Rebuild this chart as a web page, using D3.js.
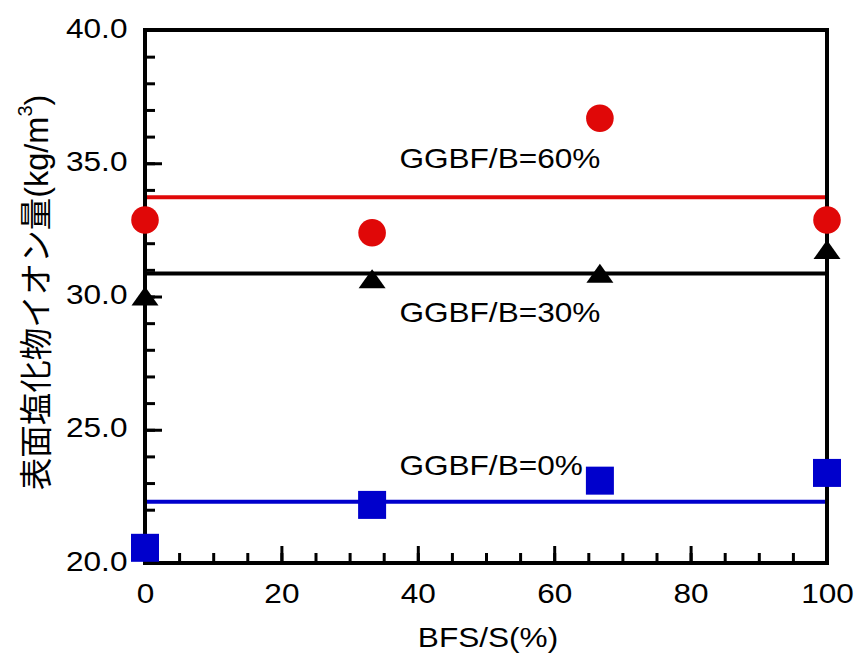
<!DOCTYPE html>
<html>
<head>
<meta charset="utf-8">
<script src="https://cdn.jsdelivr.net/npm/d3@7"></script>
<style>
  html, body { margin: 0; padding: 0; background: #fff; }
  svg { display: block; }
  text { font-family: "Liberation Sans", Arial, "Noto Sans CJK JP", sans-serif; fill: #000; }
</style>
</head>
<body>
<svg id="chart"></svg>
<script>
// BFS replacement ratio (%)
const bfsRatio = [0, 33.3, 66.7, 100];

// surface chloride content (kg/m3) per GGBF/B level
const ggbf60 = [32.87, 32.39, 36.69, 32.87];
const ggbf30 = [30.02, 30.67, 30.87, 31.76];
const ggbf0 = [20.57, 22.18, 23.09, 23.38];

// horizontal mean lines
const meanLevels = [33.72, 30.86, 22.30];

const seriesNames = ['GGBF/B=60%', 'GGBF/B=30%', 'GGBF/B=0%'];
const seriesColors = ['#e00808', '#000000', '#0000cc'];
const seriesShapes = ['circle', 'triangle', 'square'];

const yTicks = [20, 25, 30, 35, 40];
const xTicks = [0, 20, 40, 60, 80, 100];

const svgWidth = 858;
const svgHeight = 656;
const margin = { top: 30, right: 31, bottom: 93, left: 145 };
const width = svgWidth - margin.left - margin.right;
const height = svgHeight - margin.top - margin.bottom;
const stretch = 1.17; // glyphs in the original are a bit wide
const fontSize = 27;

const svg = d3.select('#chart')
  .attr('width', svgWidth)
  .attr('height', svgHeight)
  .append('g')
  .attr('transform', `translate(${margin.left},${margin.top})`);

const xScale = d3.scaleLinear().domain([0, 100]).range([0, width]);
const yScale = d3.scaleLinear().domain([20, 40]).range([height, 0]);

// mean lines (under the axes)
svg.selectAll('.mean')
  .data(meanLevels)
  .enter()
  .append('line')
  .attr('class', 'mean')
  .attr('x1', xScale(0))
  .attr('x2', xScale(100))
  .attr('y1', (d) => yScale(d))
  .attr('y2', (d) => yScale(d))
  .attr('stroke', (d, i) => seriesColors[i])
  .attr('stroke-width', 4)
  .attr('stroke-linecap', 'square');

// minor ticks
svg.append('g')
  .attr('class', 'minor')
  .call(d3.axisLeft(yScale).tickValues(d3.range(20, 40, 1)).tickSize(-10).tickFormat(''));
svg.append('g')
  .attr('class', 'minor')
  .attr('transform', `translate(0,${height})`)
  .call(d3.axisBottom(xScale).tickValues(d3.range(0, 100, 5)).tickSize(-10).tickFormat(''));
svg.selectAll('.minor .domain').remove();

// major axes
const yAxis = svg.append('g')
  .attr('class', 'major')
  .call(d3.axisLeft(yScale).tickValues(yTicks).tickSize(-17).tickFormat(d3.format('.1f')));
const xAxis = svg.append('g')
  .attr('class', 'major')
  .attr('transform', `translate(0,${height})`)
  .call(d3.axisBottom(xScale).tickValues(xTicks).tickSize(-17).tickFormat(d3.format('d')));

svg.selectAll('.tick line').attr('stroke', '#000').attr('stroke-width', 3);
svg.selectAll('.major .domain').remove();

yAxis.selectAll('text')
  .attr('x', -15)
  .attr('dy', 7)
  .attr('transform', `scale(${stretch},1)`)
  .style('font-size', fontSize + 'px');
xAxis.selectAll('text')
  .attr('y', 40)
  .attr('dy', 0)
  .attr('transform', `scale(${stretch},1)`)
  .style('font-size', fontSize + 'px');

// frame
svg.append('rect')
  .attr('x', 0)
  .attr('y', 0)
  .attr('width', width)
  .attr('height', height)
  .attr('fill', 'none')
  .attr('stroke', '#000')
  .attr('stroke-width', 4);

// markers
const allSeries = [ggbf60, ggbf30, ggbf0];
const triangle = (w, h) => `M0,${-h / 2}L${w / 2},${h / 2}L${-w / 2},${h / 2}Z`;

allSeries.forEach((values, i) => {
  const g = svg.append('g');
  const pts = values.map((v, j) => ({ x: bfsRatio[j], y: v }));
  if (seriesShapes[i] === 'circle') {
    g.selectAll('circle').data(pts).enter().append('circle')
      .attr('cx', (d) => xScale(d.x))
      .attr('cy', (d) => yScale(d.y))
      .attr('r', 13.8)
      .attr('fill', seriesColors[i]);
  } else if (seriesShapes[i] === 'square') {
    g.selectAll('rect').data(pts).enter().append('rect')
      .attr('x', (d) => xScale(d.x) - 14)
      .attr('y', (d) => yScale(d.y) - 14)
      .attr('width', 28)
      .attr('height', 28)
      .attr('fill', seriesColors[i]);
  } else {
    g.selectAll('path').data(pts).enter().append('path')
      .attr('d', triangle(27, 19))
      .attr('transform', (d) => `translate(${xScale(d.x)},${yScale(d.y)})`)
      .attr('fill', seriesColors[i]);
  }
});

// series labels
const labelAnchors = [[37.3, 34.82], [37.3, 29.04], [37.3, 23.30]];
svg.selectAll('.label')
  .data(seriesNames)
  .enter()
  .append('text')
  .attr('class', 'label')
  .attr('transform', (d, i) => `translate(${xScale(labelAnchors[i][0])},${yScale(labelAnchors[i][1])}) scale(${stretch},1)`)
  .style('font-size', fontSize + 'px')
  .text((d) => d);

// axis titles
svg.append('text')
  .attr('transform', `translate(${width / 2 + 2},${height + 84}) scale(${stretch},1)`)
  .attr('text-anchor', 'middle')
  .style('font-size', fontSize + 'px')
  .text('BFS/S(%)');

const yTitle = svg.append('text')
  .attr('transform', `translate(-97,${height / 2 - 4}) rotate(-90)`)
  .attr('text-anchor', 'middle')
  .style('font-size', '32.5px');
yTitle.append('tspan').text('表面塩化物イオン量(kg/m');
yTitle.append('tspan').attr('dy', -16).style('font-size', '20px').text('3');
yTitle.append('tspan').attr('dy', 16).text(')');
</script>
</body>
</html>
